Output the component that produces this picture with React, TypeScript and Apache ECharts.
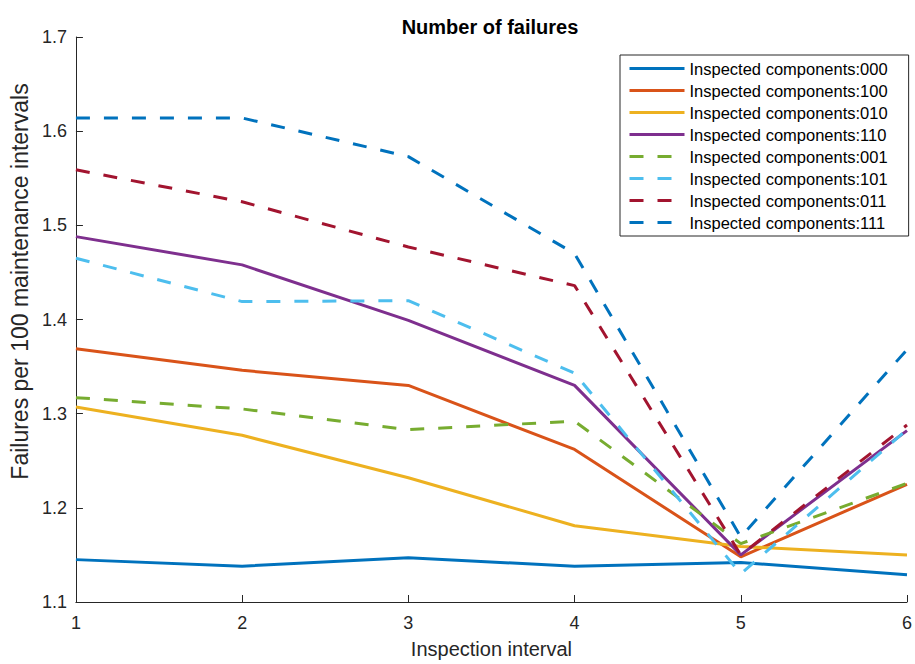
import React, { useEffect, useRef } from "react";
import * as echarts from "echarts";

const intervals = [1, 2, 3, 4, 5, 6];
const seriesNames = [
  "Inspected components:000",
  "Inspected components:100",
  "Inspected components:010",
  "Inspected components:110",
  "Inspected components:001",
  "Inspected components:101",
  "Inspected components:011",
  "Inspected components:111",
];
const s000 = [1.145, 1.138, 1.147, 1.138, 1.142, 1.129];
const s100 = [1.369, 1.346, 1.330, 1.262, 1.148, 1.225];
const s010 = [1.307, 1.277, 1.232, 1.181, 1.159, 1.150];
const s110 = [1.488, 1.458, 1.399, 1.330, 1.150, 1.282];
const s001 = [1.317, 1.305, 1.283, 1.292, 1.162, 1.226];
const s101 = [1.465, 1.419, 1.420, 1.343, 1.130, 1.283];
const s011 = [1.559, 1.525, 1.477, 1.436, 1.150, 1.288];
const s111 = [1.614, 1.614, 1.573, 1.470, 1.169, 1.368];
const seriesValues = [s000, s100, s010, s110, s001, s101, s011, s111];
const seriesColors = ["#0072BD", "#D95319", "#EDB120", "#7E2F8E", "#77AC30", "#4DBEEE", "#A2142F", "#0072BD"];
const seriesDashed = [false, false, false, false, true, true, true, true];

const FONT = "'Liberation Sans', Arial, Helvetica, sans-serif";
const TXT = "#262626";

export default function App() {
  const ref = useRef<HTMLDivElement>(null);
  useEffect(() => {
    if (!ref.current) return;
    const chart = echarts.init(ref.current, undefined, { renderer: "svg" });
    chart.setOption({
      animation: false,
      backgroundColor: "#ffffff",
      textStyle: { fontFamily: FONT },
      title: {
        text: "Number of failures",
        left: 485,
        textAlign: "center",
        top: 12,
        textStyle: { fontFamily: FONT, fontSize: 20, fontWeight: "bold", color: "#000" },
      },
      grid: { left: 72, right: 5, top: 37, bottom: 61, containLabel: false },
      legend: {
        orient: "vertical",
        left: 620,
        top: 55,
        padding: [5, 21, 5, 8],
        itemGap: 5,
        itemWidth: 55,
        itemHeight: 16,
        backgroundColor: "#ffffff",
        borderColor: "#262626",
        borderWidth: 1,
        borderRadius: 0,
        itemStyle: { opacity: 0 },
        lineStyle: { width: 3 },
        textStyle: { fontFamily: FONT, fontSize: 16.5, color: "#000" },
        data: seriesNames,
      },
      xAxis: {
        type: "value",
        min: 1,
        max: 6,
        interval: 1,
        name: "Inspection interval",
        nameLocation: "middle",
        nameGap: 37,
        nameTextStyle: { fontFamily: FONT, fontSize: 20, color: TXT },
        axisLine: { show: true, lineStyle: { color: TXT, width: 1 } },
        axisTick: { show: true, inside: true, length: 7, lineStyle: { color: TXT } },
        axisLabel: { fontFamily: FONT, fontSize: 18, color: TXT, margin: 12 },
        splitLine: { show: false },
      },
      yAxis: {
        type: "value",
        min: 1.1,
        max: 1.7,
        interval: 0.1,
        name: "Failures per 100 maintenance intervals",
        nameLocation: "middle",
        nameGap: 39,
        nameTextStyle: { fontFamily: FONT, fontSize: 23, color: TXT, padding: [0, 0, 0, 76] },
        axisLine: { show: true, lineStyle: { color: TXT, width: 1 } },
        axisTick: { show: true, inside: true, length: 7, lineStyle: { color: TXT } },
        axisLabel: {
          fontFamily: FONT,
          fontSize: 18,
          color: TXT,
          margin: 9,
          formatter: (v: number) => v.toFixed(1),
        },
        splitLine: { show: false },
      },
      series: seriesNames.map((name, i) => ({
        name,
        type: "line",
        data: intervals.map((x, j) => [x, seriesValues[i][j]]),
        showSymbol: false,
        symbol: "none",
        color: seriesColors[i],
        lineStyle: {
          color: seriesColors[i],
          width: 3,
          opacity: 1,
          type: seriesDashed[i] ? [14, 14] : "solid",
        },
      })),
    });
    return () => chart.dispose();
  }, []);
  return (
    <div
      ref={ref}
      style={{ position: "fixed", left: 0, top: 0, width: 915, height: 664 }}
    />
  );
}
